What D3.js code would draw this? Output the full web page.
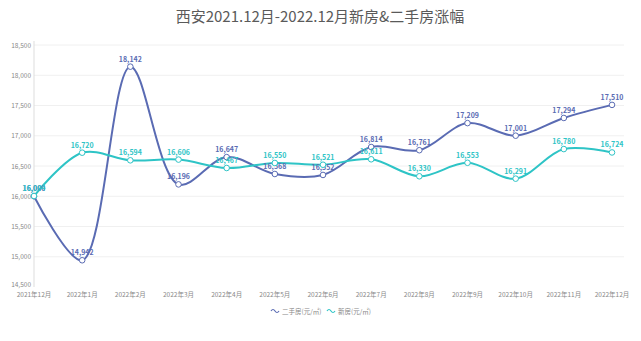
<!DOCTYPE html>
<html><head><meta charset="utf-8">
<script src="https://cdn.jsdelivr.net/npm/d3@7/dist/d3.min.js"></script>
<style>body{margin:0;background:#fff}svg{display:block;font-family:"Noto Sans CJK SC","Noto Sans",sans-serif}</style>
</head><body><svg id="c" width="641" height="341"></svg>
<script>
const months = ["2021年12月","2022年1月","2022年2月","2022年3月","2022年4月","2022年5月","2022年6月","2022年7月","2022年8月","2022年9月","2022年10月","2022年11月","2022年12月"];
const oldHouse = [16000,14942,18142,16196,16647,16368,16352,16814,16761,17209,17001,17294,17510];
const newHouse = [16004,16720,16594,16606,16467,16550,16521,16611,16330,16553,16291,16780,16724];
const yTicks = [14500,15000,15500,16000,16500,17000,17500,18000,18500];
const seriesNames = ["二手房(元/㎡)","新房(元/㎡)"];
const colors = ["#5a6bb3","#2ec4c6"];

const svg = d3.select("#c");
const L=34,R=612,T=45,B=287;
const x = d3.scalePoint().domain(months).range([L,R]);
const y = d3.scaleLinear().domain([14500,18500]).range([B,T]);
const fmt = d3.format(",");

svg.append("text").attr("x",320).attr("y",22).attr("text-anchor","middle")
  .attr("font-size",15).attr("fill","#5a5a5a").text("西安2021.12月-2022.12月新房&二手房涨幅");

// grid
svg.append("g").selectAll("line").data(yTicks.slice(1)).join("line")
  .attr("x1",L).attr("x2",R+12).attr("y1",d=>y(d)).attr("y2",d=>y(d))
  .attr("stroke","#f0f0f0").attr("stroke-width",1);
svg.append("line").attr("x1",L).attr("x2",L).attr("y1",T-4).attr("y2",B).attr("stroke","#ddd");
svg.append("g").selectAll("text").data(yTicks).join("text")
  .attr("x",L-3).attr("y",d=>y(d)+(d===14500?0:2.5)).attr("text-anchor","end")
  .attr("font-size",6.5).attr("fill","#888").text(d=>fmt(d));
svg.append("g").selectAll("text").data(months).join("text")
  .attr("x",d=>x(d)).attr("y",B+10).attr("text-anchor","middle")
  .attr("font-size",6.5).attr("fill","#888").text(d=>d);

const line = d3.line().x((d,i)=>x(months[i])).y(d=>y(d)).curve(d3.curveCatmullRom.alpha(0.5));
[oldHouse,newHouse].forEach((s,k)=>{
  svg.append("path").attr("d",line(s)).attr("fill","none").attr("stroke",colors[k]).attr("stroke-width",2);
});
[oldHouse,newHouse].forEach((s,k)=>{
  const g = svg.append("g");
  g.selectAll("circle").data(s).join("circle")
    .attr("cx",(d,i)=>x(months[i])).attr("cy",d=>y(d)).attr("r",2.8)
    .attr("fill","#fff").attr("stroke",colors[k]).attr("stroke-width",1);
  g.selectAll("text").data(s).join("text")
    .attr("x",(d,i)=>x(months[i])).attr("y",d=>y(d)-5).attr("text-anchor","middle")
    .attr("font-size",7).attr("font-weight","bold").attr("fill",colors[k]).text(d=>fmt(d));
});

// legend
const lg = svg.append("g");
const lx=[275,331];
seriesNames.forEach((n,k)=>{
  const gx=lx[k], gy=311;
  lg.append("path").attr("d",`M${gx-4},${gy}q2,-3 4,0t4,0`).attr("fill","none").attr("stroke",colors[k]).attr("stroke-width",1.2);
  lg.append("text").attr("x",gx+7).attr("y",gy+2.5).attr("font-size",6.5).attr("fill","#888").text(n);
});
</script></body></html>
